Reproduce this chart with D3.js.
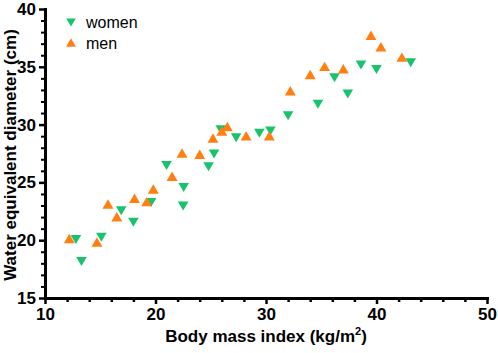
<!DOCTYPE html>
<html>
<head>
<meta charset="utf-8">
<script src="https://cdn.jsdelivr.net/npm/d3@7"></script>
<style>
  body { margin: 0; background: #fff; }
  svg text { font-family: "Liberation Sans", Arial, sans-serif; }
</style>
</head>
<body>
<div id="chart"></div>
<script>
// data (BMI, diameter)
const womenBmi = [12.8, 13.3, 15.1, 16.9, 18.0, 19.6, 21.0, 22.5, 22.55, 24.8, 25.3, 25.9, 27.3, 29.4, 30.4, 32.0, 34.7, 36.2, 37.4, 38.6, 40.0, 43.1];
const womenDiam = [20.1, 18.2, 20.3, 22.6, 21.6, 23.3, 26.5, 23.0, 24.6, 26.4, 27.5, 29.6, 28.9, 29.3, 29.5, 30.8, 31.8, 34.1, 32.7, 35.2, 34.8, 35.4];
const menBmi = [12.2, 14.7, 15.7, 16.5, 18.1, 19.2, 19.8, 21.5, 22.4, 24.0, 25.2, 26.0, 26.5, 28.2, 30.3, 32.2, 34.0, 35.3, 37.0, 39.5, 40.4, 42.3];
const menDiam = [20.0, 19.7, 23.0, 21.9, 23.5, 23.2, 24.3, 25.4, 27.4, 27.3, 28.7, 29.3, 29.7, 28.9, 28.9, 32.8, 34.2, 34.9, 34.7, 37.6, 36.6, 35.7];
const xTicks = [10, 20, 30, 40, 50];
const yTicks = [15, 20, 25, 30, 35, 40];

const W = 498, H = 353;
const margin = { top: 9, right: 11, bottom: 55, left: 45 };
const green = "#17c46b", orange = "#ff7f13";

const svg = d3.select("#chart").append("svg")
    .attr("width", W)
    .attr("height", H);

const x = d3.scaleLinear().domain([10, 50]).range([margin.left, W - margin.right]);
const y = d3.scaleLinear().domain([15, 40]).range([H - margin.bottom, margin.top]);

// minor ticks
svg.append("g")
    .attr("transform", `translate(0,${H - margin.bottom})`)
    .call(d3.axisBottom(x).tickValues(d3.range(12, 50, 2).filter(v => v % 10 !== 0)).tickSize(4).tickFormat(""))
    .call(g => g.select(".domain").remove())
    .selectAll("line").attr("stroke", "#000").attr("stroke-width", 2.5);

svg.append("g")
    .attr("transform", `translate(${margin.left},0)`)
    .call(d3.axisLeft(y).tickValues(d3.range(16, 40, 1).filter(v => v % 5 !== 0)).tickSize(4).tickFormat(""))
    .call(g => g.select(".domain").remove())
    .selectAll("line").attr("stroke", "#000").attr("stroke-width", 2);

// major axes
const xAxis = svg.append("g")
    .attr("transform", `translate(0,${H - margin.bottom})`)
    .call(d3.axisBottom(x).tickValues(xTicks).tickSize(6).tickSizeOuter(0).tickPadding(4));
const yAxis = svg.append("g")
    .attr("transform", `translate(${margin.left},0)`)
    .call(d3.axisLeft(y).tickValues(yTicks).tickSize(6).tickSizeOuter(0).tickPadding(3));

[xAxis, yAxis].forEach(g => {
    g.select(".domain").attr("stroke", "#000").attr("stroke-width", 3).attr("stroke-linecap", "square");
    g.selectAll(".tick line").attr("stroke", "#000").attr("stroke-width", 2.5);
    g.selectAll("text")
        .attr("fill", "#000")
        .style("font-size", "17px")
        .style("font-weight", "bold");
});

// axis titles
const xt = svg.append("text")
    .attr("x", 266)
    .attr("y", 342)
    .attr("text-anchor", "middle")
    .style("font-size", "17px")
    .style("font-weight", "bold")
    .text("Body mass index (kg/m");
xt.append("tspan").attr("dy", -7).style("font-size", "11px").text("2");
xt.append("tspan").attr("dy", 7).text(")");

svg.append("text")
    .attr("transform", "translate(16,155) rotate(-90)")
    .attr("text-anchor", "middle")
    .style("font-size", "17px")
    .style("font-weight", "bold")
    .text("Water equivalent diameter (cm)");

const triUp = d3.symbol().type(d3.symbolTriangle).size(52);
const triDown = "M-5.3,-4L5.3,-4L0,5Z";

const women = womenBmi.map((b, i) => ({ b, d: womenDiam[i] }));
const men = menBmi.map((b, i) => ({ b, d: menDiam[i] }));

svg.append("g").selectAll("path")
    .data(women)
    .enter()
    .append("path")
    .attr("d", triDown)
    .attr("transform", d => `translate(${x(d.b)},${y(d.d)})`)
    .attr("fill", green);

svg.append("g").selectAll("path")
    .data(men)
    .enter()
    .append("path")
    .attr("d", triUp)
    .attr("transform", d => `translate(${x(d.b)},${y(d.d)})`)
    .attr("fill", orange);

// legend
const legend = svg.append("g");
legend.append("path").attr("d", triDown).attr("transform", "translate(71,22) scale(0.9)").attr("fill", green);
legend.append("text").attr("x", 86).attr("y", 28).style("font-size", "16px").text("women");
legend.append("path").attr("d", triUp).attr("transform", "translate(71,44) scale(0.9)").attr("fill", orange);
legend.append("text").attr("x", 86).attr("y", 49).style("font-size", "16px").text("men");
</script>
</body>
</html>
